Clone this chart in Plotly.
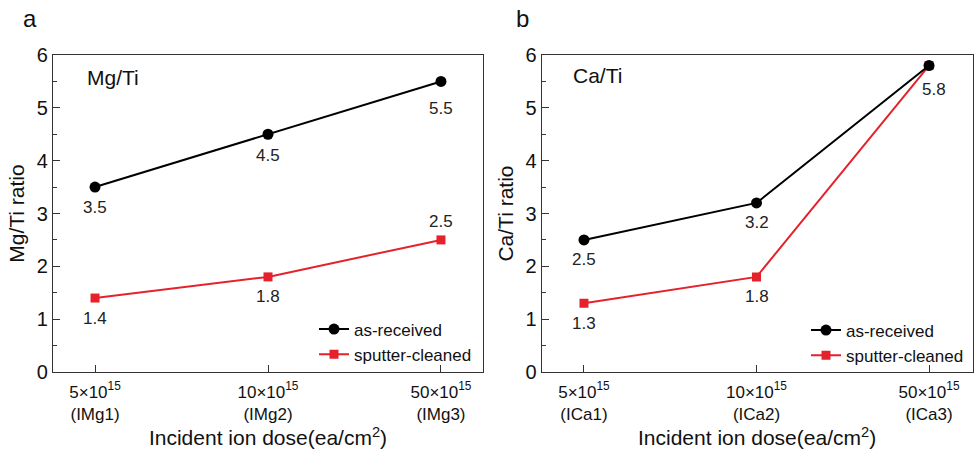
import plotly.graph_objects as go

# Incident ion dose categories (tick labels)
dose_labels_mg = ["5×10<sup>15</sup><br>(IMg1)", "10×10<sup>15</sup><br>(IMg2)", "50×10<sup>15</sup><br>(IMg3)"]
dose_labels_ca = ["5×10<sup>15</sup><br>(ICa1)", "10×10<sup>15</sup><br>(ICa2)", "50×10<sup>15</sup><br>(ICa3)"]
positions = [0, 1, 2]

# Mg/Ti ratio
mg_as_received = [3.5, 4.5, 5.5]
mg_sputter_cleaned = [1.4, 1.8, 2.5]

# Ca/Ti ratio
ca_as_received = [2.5, 3.2, 5.8]
ca_sputter_cleaned = [1.3, 1.8, 5.8]

FONT = "Liberation Sans, Arial, sans-serif"
BLACK = "#000000"
RED = "#e5222b"
W, H = 978, 451

fig = go.Figure()

def add_series(xaxis, yaxis, legend, as_rec, sput):
    fig.add_trace(go.Scatter(
        x=positions, y=sput, mode="lines+markers", name="sputter-cleaned",
        line=dict(color=RED, width=2), marker=dict(symbol="square", size=9, color=RED),
        xaxis=xaxis, yaxis=yaxis, legend=legend))
    fig.add_trace(go.Scatter(
        x=positions, y=as_rec, mode="lines+markers", name="as-received",
        line=dict(color=BLACK, width=2), marker=dict(symbol="circle", size=11, color=BLACK),
        xaxis=xaxis, yaxis=yaxis, legend=legend))

add_series("x", "y", "legend", mg_as_received, mg_sputter_cleaned)
add_series("x2", "y2", "legend2", ca_as_received, ca_sputter_cleaned)

annotations = []

def value_labels(xref, yref, values, shifts):
    for xi, v, (dx, dy) in zip(positions, values, shifts):
        annotations.append(dict(
            x=xi, y=v, xref=xref, yref=yref, text=f"{v:g}", showarrow=False,
            xanchor="center", yanchor="middle",
            xshift=dx, yshift=dy, font=dict(size=17, color="#222", family=FONT)))

value_labels("x", "y", mg_as_received, [(0, -20), (0, -21), (0, -27)])
value_labels("x", "y", mg_sputter_cleaned, [(0, -20), (0, -20), (0, 18)])
value_labels("x2", "y2", ca_as_received, [(0, -20), (0, -20), (5, -24)])
value_labels("x2", "y2", ca_sputter_cleaned[:2], [(0, -20), (0, -20)])

# panel letters and inset titles
for txt, x, y in [("a", 30, 19), ("b", 522, 19)]:
    annotations.append(dict(x=x / W, y=1 - y / H, xref="paper", yref="paper", text=txt,
                            xanchor="center", yanchor="middle", showarrow=False,
                            font=dict(size=24, color="#111", family=FONT)))
for txt, x, y in [("Mg/Ti", 113, 77), ("Ca/Ti", 597, 76)]:
    annotations.append(dict(x=x / W, y=1 - y / H, xref="paper", yref="paper", text=txt,
                            xanchor="center", yanchor="middle", showarrow=False,
                            font=dict(size=21, color="#111", family=FONT)))

axis_common = dict(showline=True, linecolor="#333", linewidth=1.3, mirror=True,
                   ticks="inside", tickcolor="#333", showgrid=False, zeroline=False,
                   automargin=False)

ytop = 1 - 55 / H
ybot = 1 - 372 / H

def xaxis_cfg(dom, rng, labels, anchor):
    return dict(domain=dom, range=rng, tickvals=positions, ticktext=labels, ticklen=7,
                tickfont=dict(size=17), ticklabelstandoff=4,
                title=dict(text="Incident ion dose(ea/cm<sup>2</sup>)", font=dict(size=21), standoff=7),
                anchor=anchor, **axis_common)

def yaxis_cfg(title, anchor):
    return dict(domain=[ybot, ytop], range=[0, 6], dtick=1, ticklen=7, tickfont=dict(size=20),
                minor=dict(dtick=0.5, ticks="inside", ticklen=4, tickcolor="#333"),
                title=dict(text=title, font=dict(size=21), standoff=6),
                anchor=anchor, **axis_common)

legend_common = dict(xanchor="left", yanchor="middle", traceorder="reversed",
                     font=dict(size=17), bgcolor="rgba(0,0,0,0)", itemwidth=30, tracegroupgap=0)

fig.update_layout(
    width=W, height=H, margin=dict(l=0, r=0, t=0, b=0),
    paper_bgcolor="white", plot_bgcolor="white",
    font=dict(family=FONT, color="#111"),
    annotations=annotations,
    xaxis=xaxis_cfg([53 / W, 483 / W], [-0.243, 2.243], dose_labels_mg, "y"),
    yaxis=yaxis_cfg("Mg/Ti ratio", "x"),
    xaxis2=xaxis_cfg([541.7 / W, 972.5 / W], [-0.245, 2.252], dose_labels_ca, "y2"),
    yaxis2=yaxis_cfg("Ca/Ti ratio", "x2"),
    legend=dict(x=314 / W, y=1 - 342 / H, **legend_common),
    legend2=dict(x=806 / W, y=1 - 343 / H, **legend_common),
)

fig.write_html("out.html")
